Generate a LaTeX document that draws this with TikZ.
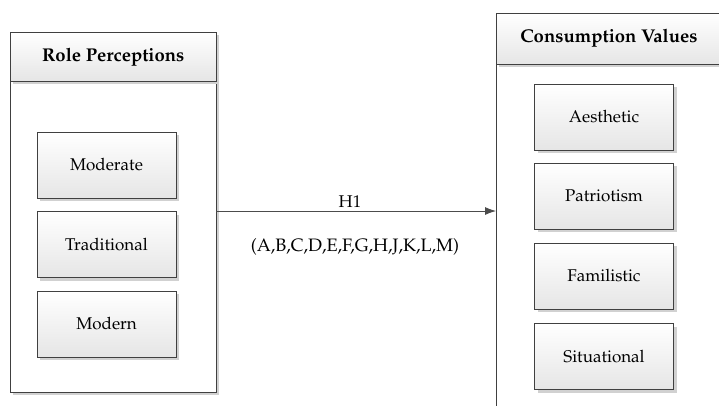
\documentclass[tikz,border=0pt]{standalone}
\usepackage[T1]{fontenc}
\usepackage{mathpazo}
\usetikzlibrary{shadows,arrows.meta}
\tikzset{
  x=1pt, y=-1pt,
  boxshade/.style={draw=black!75, line width=0.6pt, top color=white, bottom color=black!10,
    drop shadow={shadow xshift=3pt, shadow yshift=-3pt, fill=black!18, opacity=1}},
  inner/.style={boxshade, minimum width=139pt, minimum height=66pt, inner sep=0pt, font=\fontsize{17}{20}\selectfont},
  header/.style={boxshade, inner sep=0pt, font=\bfseries\fontsize{18.5}{22}\selectfont},
  body/.style={draw=black!75, line width=0.6pt, fill=white,
    drop shadow={shadow xshift=3pt, shadow yshift=-3pt, fill=black!18, opacity=1}},
  lbl/.style={font=\fontsize{17}{20}\selectfont, inner sep=0pt}
}
\begin{document}
\begin{tikzpicture}
\useasboundingbox (0,0) rectangle (719,405);
\clip (0,0) rectangle (719,405);
% left container
\node[body, minimum width=206pt, minimum height=311pt, anchor=north west] (lbody) at (10,81) {};
\node[header, minimum width=206pt, minimum height=49pt, anchor=north west] (lhead) at (10,32) {Role Perceptions};
\node[inner] (mod) at (106.5,165) {Moderate};
\node[inner] (trad) at (106.5,244.5) {Traditional};
\node[inner] (modn) at (106.5,324) {Modern};
% right container
\node[body, minimum width=240pt, minimum height=360pt, anchor=north west] (rbody) at (496,64) {};
\node[header, minimum width=240pt, minimum height=51pt, anchor=north west] (rhead) at (496,13) {};
\node[font=\bfseries\fontsize{18.5}{22}\selectfont, inner sep=0pt] (rtitle) at (609,38.5) {Consumption Values};
\node[inner] (aes) at (604,117) {Aesthetic};
\node[inner] (pat) at (604,196) {Patriotism};
\node[inner] (fam) at (604,276) {Familistic};
\node[inner] (sit) at (604,356.5) {Situational};
% arrow
\coordinate (as) at (216,211);
\coordinate (ae) at (496,211);
\draw[black!70, line width=0.8pt, -{Latex[length=11pt,width=8pt]}] (as) -- (ae);
\node[lbl] (h1) at (350,202) {H1};
\node[lbl, font=\fontsize{18}{20}\selectfont] (list) at (355,247) {(A,B,C,D,E,F,G,H,J,K,L,M)};
\end{tikzpicture}
\end{document}
